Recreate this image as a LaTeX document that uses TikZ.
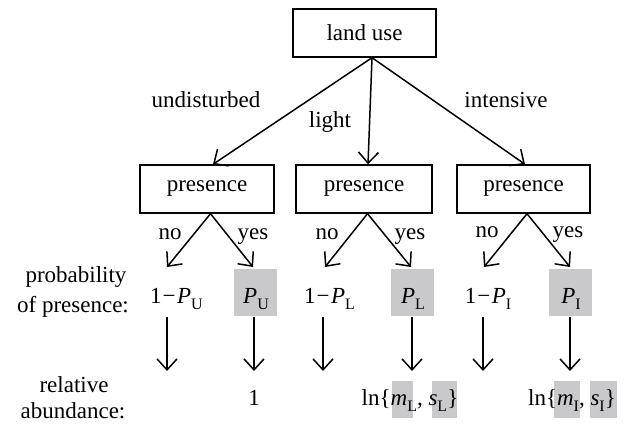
\documentclass[tikz,border=0pt]{standalone}
\usepackage{fontspec}
\setmainfont{Liberation Serif}
\usetikzlibrary{arrows.meta}
\definecolor{hlgray}{RGB}{201,201,203}
\newcommand{\lsub}[1]{\raisebox{-6pt}{\fontsize{16}{16}\selectfont #1}}
\newcommand{\mns}{\kern1pt\char"2212\kern1.5pt}
\tikzset{
	box/.style={draw, line width=1.4pt, minimum width=134pt, minimum height=48pt, inner sep=0pt},
	arr/.style={line width=1.5pt, -{Straight Barb[length=11pt,width=20pt]}},
	hlbox/.style={fill=hlgray, inner sep=0pt, minimum height=37pt},
	txt/.style={anchor=base, inner sep=0pt},
}

\begin{document}
\begin{tikzpicture}[x=1pt, y=-1pt, font=\fontsize{23}{28}\selectfont]
			%%%%% START %%%%%
			\useasboundingbox (0, 0) rectangle (628, 427);
			
			% boxes
			\node[box, minimum width=143pt] (landuse) at (364.5, 33) {land use};
			\node[box] (presU) at (207, 189) {presence};
			\node[box, minimum width=136pt] (presL) at (364, 189) {presence};
			\node[box, minimum width=133pt] (presI) at (523.5, 189) {presence};
			
			% land use -> presence
			\draw[arr] ([xshift=7.5pt]landuse.south) -- ([xshift=6pt]presU.north);
			\draw[arr] ([xshift=7.5pt]landuse.south) -- ([xshift=4pt]presL.north);
			\draw[arr] ([xshift=7.5pt]landuse.south) -- ([xshift=1.5pt]presI.north);
			\node[txt] (undist) at (206, 108) {undisturbed};
			\node[txt] (light) at (330, 128) {light};
			\node[txt] (intens) at (506, 108) {intensive};
			
			% presence -> no / yes
			\coordinate (noU) at (167, 267);
			\coordinate (yesU) at (253, 267);
			\coordinate (noL) at (325, 267);
			\coordinate (yesL) at (411, 267);
			\coordinate (noI) at (484, 267);
			\coordinate (yesI) at (570, 267);
			\draw[arr] ([xshift=3.5pt]presU.south) -- (noU);
			\draw[arr] ([xshift=3.5pt]presU.south) -- (yesU);
			\draw[arr] ([xshift=3.5pt]presL.south) -- (noL);
			\draw[arr] ([xshift=3.5pt]presL.south) -- (yesL);
			\draw[arr] ([xshift=3.5pt]presI.south) -- (noI);
			\draw[arr] ([xshift=3.5pt]presI.south) -- (yesI);
			\node[txt] (nU) at (170, 240) {no};
			\node[txt] (yU) at (253, 240) {yes};
			\node[txt] (nL) at (327, 240) {no};
			\node[txt] (yL) at (410, 240) {yes};
			\node[txt] (nI) at (487, 238) {no};
			\node[txt] (yI) at (568, 238) {yes};
			
			% probability of presence
			\node[txt] (prob1) at (76, 283) {probability};
			\node[txt] (prob2) at (73, 312) {of presence:};
			\node[hlbox, minimum width=43pt, minimum height=47pt] (hU) at (255.5, 292.5) {};
			\node[hlbox, minimum width=43pt, minimum height=47pt] (hL) at (412.5, 292.5) {};
			\node[hlbox, minimum width=43pt, minimum height=47pt] (hI) at (570.5, 292.5) {};
			\node[txt] (qU) at (176.5, 303) {1\mns\textit{P}\lsub{U}};
			\node[txt] (pU) at (256, 303) {\textit{P}\lsub{U}};
			\node[txt] (qL) at (329.5, 303) {1\mns\textit{P}\lsub{L}};
			\node[txt] (pL) at (413, 303) {\textit{P}\lsub{L}};
			\node[txt] (qI) at (488, 303) {1\mns\textit{P}\lsub{I}};
			\node[txt] (pI) at (571, 303) {\textit{P}\lsub{I}};
			
			% down arrows
			\foreach \x/\n in {167/a, 254/b, 323/c, 412/d, 483/e, 570/f} {
				\coordinate (t\n) at (\x, 317);
				\coordinate (h\n) at (\x, 371);
				\draw[arr] (t\n) -- (h\n);
			}
			
			% relative abundance
			\node[txt] (rel1) at (74, 392) {relative};
			\node[txt] (rel2) at (73, 418) {abundance:};
			\node[hlbox, minimum width=21pt] (hmL) at (402.5, 399.5) {};
			\node[hlbox, minimum width=25pt] (hsL) at (444.5, 399.5) {};
			\node[hlbox, minimum width=26pt] (hmI) at (567, 399.5) {};
			\node[hlbox, minimum width=27pt] (hsI) at (603.5, 399.5) {};
			\node[txt] (one) at (254, 405) {1};
			\node[txt] (lnL) at (410, 405) {ln\{\textit{m}\lsub{L}, \textit{s}\lsub{L}\}};
			\node[txt] (lnI) at (572, 405) {ln\{\textit{m}\lsub{I}, \textit{s}\lsub{I}\}};
			
			%%%%% END %%%%%
\end{tikzpicture}
\end{document}
